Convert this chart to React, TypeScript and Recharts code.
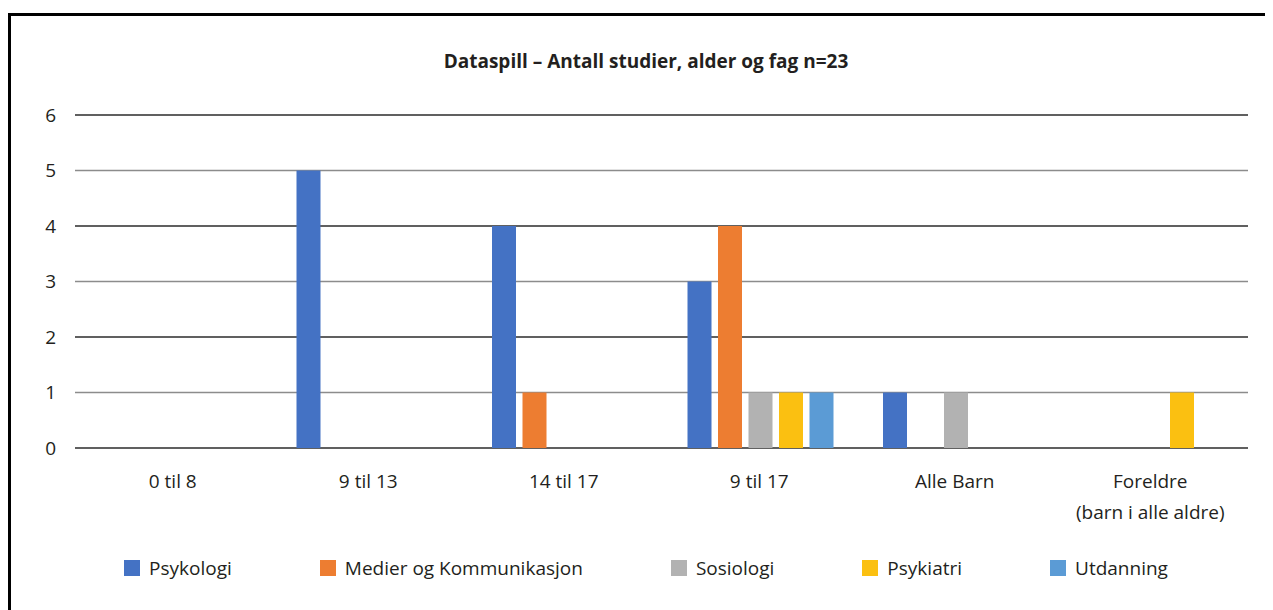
import React from 'react';
import { BarChart, Bar, XAxis, YAxis, CartesianGrid, Legend } from 'recharts';

const categories = ['0 til 8', '9 til 13', '14 til 17', '9 til 17', 'Alle Barn', 'Foreldre\n(barn i alle aldre)'];
const psykologi = [0, 5, 4, 3, 1, 0];
const medier = [0, 0, 1, 4, 0, 0];
const sosiologi = [0, 0, 0, 1, 1, 0];
const psykiatri = [0, 0, 0, 1, 0, 1];
const utdanning = [0, 0, 0, 1, 0, 0];
const yTicks = [0, 1, 2, 3, 4, 5, 6];

const series = [
  { key: 'psykologi', name: 'Psykologi', color: '#4472C4', values: psykologi },
  { key: 'medier', name: 'Medier og Kommunikasjon', color: '#ED7D31', values: medier },
  { key: 'sosiologi', name: 'Sosiologi', color: '#B2B2B2', values: sosiologi },
  { key: 'psykiatri', name: 'Psykiatri', color: '#FBC011', values: psykiatri },
  { key: 'utdanning', name: 'Utdanning', color: '#5B9BD5', values: utdanning },
];

const data = categories.map((label, i) => {
  const row: Record<string, string | number> = { label };
  series.forEach((s) => {
    row[s.key] = s.values[i];
  });
  return row;
});

const textColor = '#231f20';
const font = '"Open Sans", "Noto Sans", sans-serif';

function CategoryTick({ x, y, payload }: any) {
  const lines = String(payload.value).split('\n');
  return (
    <text x={x} y={y} textAnchor="middle" fill={textColor} fontSize={19}>
      {lines.map((line, i) => (
        <tspan key={i} x={x} dy={i === 0 ? 40 : 31}>
          {line}
        </tspan>
      ))}
    </text>
  );
}

function GridLine(props: any) {
  // every other gridline is darker in the original
  return (
    <line
      key={props.key}
      x1={props.x1}
      y1={props.y1}
      x2={props.x2}
      y2={props.y2}
      stroke={props.index % 2 ? '#8c8c8c' : '#2b2b2b'}
      strokeWidth={1.3}
    />
  );
}

// legend keeps the series order (recharts sorts its payload by name)
function LegendContent() {
  return (
    <div style={{ display: 'flex', justifyContent: 'center', alignItems: 'center', height: 24 }}>
      {series.map((s, i) => (
        <div key={s.key} style={{ display: 'flex', alignItems: 'center', marginLeft: i ? 88 : 0 }}>
          <span style={{ display: 'inline-block', width: 16, height: 16, background: s.color, marginRight: 9 }} />
          <span style={{ fontSize: 19, color: textColor, lineHeight: '24px' }}>{s.name}</span>
        </div>
      ))}
    </div>
  );
}

export default function App() {
  return (
    <div
      style={{
        position: 'relative',
        width: 1265,
        height: 602,
        overflow: 'hidden',
        background: '#fff',
        fontFamily: font,
      }}
    >
      <div
        style={{
          position: 'absolute',
          left: 0,
          top: 5,
          width: 1400,
          height: 800,
          borderTop: '3px solid #000',
          borderLeft: '3px solid #000',
        }}
      />
      <div
        style={{
          position: 'absolute',
          left: 11,
          top: 40,
          width: 1254,
          textAlign: 'center',
          fontSize: 19,
          fontWeight: 700,
          color: textColor,
          lineHeight: 'normal',
        }}
      >
        Dataspill – Antall studier, alder og fag n=23
      </div>
      <div style={{ position: 'absolute', left: 0, top: 0 }}>
        <BarChart
          width={1265}
          height={602}
          data={data}
          margin={{ top: 107, right: 25, bottom: 30, left: 7 }}
          barCategoryGap={26}
          barGap={6.5}
        >
          <CartesianGrid vertical={false} horizontal={GridLine} />
          <XAxis
            dataKey="label"
            axisLine={false}
            tickLine={false}
            tickSize={0}
            tickMargin={0}
            height={108}
            interval={0}
            tick={<CategoryTick />}
          />
          <YAxis
            domain={[0, 6]}
            ticks={yTicks}
            axisLine={false}
            tickLine={false}
            tickSize={0}
            tickMargin={19}
            width={60}
            tick={{ fontSize: 19, fill: textColor }}
          />
          <Legend
            verticalAlign="bottom"
            align="center"
            content={<LegendContent />}
            wrapperStyle={{ left: 11, width: 1254 }}
          />
          {series.map((s) => (
            <Bar key={s.key} dataKey={s.key} name={s.name} fill={s.color} isAnimationActive={false} />
          ))}
        </BarChart>
      </div>
    </div>
  );
}
